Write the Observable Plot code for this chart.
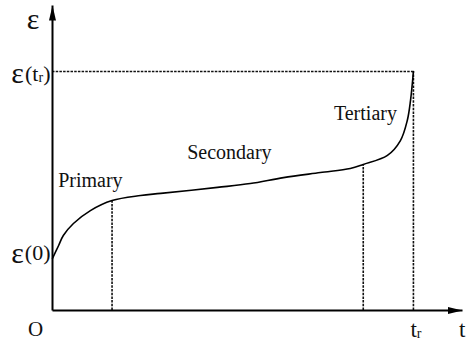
<!DOCTYPE html>
<html><head><meta charset="utf-8">
<script src="https://cdn.jsdelivr.net/npm/d3@7"></script>
<script src="https://cdn.jsdelivr.net/npm/@observablehq/plot@0.6"></script>
<style>body{margin:0;background:#fff} svg text{font-family:"Liberation Serif","Times New Roman","DejaVu Serif",serif !important}</style>
</head><body><div id="chart"></div>
<script>
// creep curve: time (t_r = 10) vs strain (ε(t_r) = 10)
const time   = [0, 0.17, 0.30, 0.58, 1.05, 1.65, 2.44, 3.0, 4.57, 5.48, 6.40, 7.42, 8.25, 8.61, 9.28, 9.64, 9.83, 9.92, 10.0];
const strain = [2.18, 2.72, 3.14, 3.64, 4.18, 4.60, 4.81, 4.90, 5.15, 5.31, 5.56, 5.77, 5.94, 6.11, 6.49, 7.11, 7.95, 8.79, 10.0];
const tRupture = 10, strainRupture = 10, strain0 = 2.18;
const stageEnds = [{t: 1.65, e: 4.60}, {t: 8.61, e: 6.11}];
const stageNames = ["Primary", "Secondary", "Tertiary"];
const stageLabelT = [1.05, 4.90, 8.67];
const stageLabelE = [5.44, 6.61, 8.24];
const tMax = 11.36, eMax = 12.76;

const curve = time.map((t, i) => ({t, e: strain[i]}));
const labels = stageNames.map((name, i) => ({name, t: stageLabelT[i], e: stageLabelE[i]}));
const FONT = "Liberation Serif, Times New Roman, DejaVu Serif, serif";

function filledArrow(color, context) {
  const doc = (context && context.document) || document;
  const m = doc.createElementNS("http://www.w3.org/2000/svg", "marker");
  m.setAttribute("viewBox", "-15 -4 15 8");
  m.setAttribute("markerWidth", "15");
  m.setAttribute("markerHeight", "8");
  m.setAttribute("markerUnits", "userSpaceOnUse");
  m.setAttribute("orient", "auto");
  m.setAttribute("refX", "0");
  m.setAttribute("refY", "0");
  const p = doc.createElementNS("http://www.w3.org/2000/svg", "path");
  p.setAttribute("d", "M-15,-3.5L0,0L-15,3.5Z");
  p.setAttribute("fill", "#000");
  p.setAttribute("stroke", "none");
  m.appendChild(p);
  return m;
}

function build(marker) {
  const dash = {stroke: "#111", strokeWidth: 1.6, strokeDasharray: "2.5,1.2"};
  const txt = {fill: "#111", fontFamily: FONT};
  return Plot.plot({
    width: 467, height: 342,
    marginLeft: 52, marginRight: 5, marginTop: 5, marginBottom: 32,
    x: {domain: [0, tMax], axis: null},
    y: {domain: [0, eMax], axis: null},
    style: {fontFamily: FONT, background: "#fff"},
    marks: [
      Plot.ruleX(stageEnds, {x: "t", y1: 0, y2: "e", ...dash}),
      Plot.ruleX([tRupture], {y1: 0, y2: strainRupture, ...dash}),
      Plot.ruleY([strainRupture], {x1: 0, x2: tRupture, ...dash}),
      Plot.line(curve, {x: "t", y: "e", curve: "catmull-rom", stroke: "#000", strokeWidth: 1.6}),
      Plot.link([0], {x1: 0, y1: 0, x2: tMax, y2: 0, stroke: "#000", strokeWidth: 2, markerEnd: marker}),
      Plot.link([0], {x1: 0, y1: 0, x2: 0, y2: eMax, stroke: "#000", strokeWidth: 2, markerEnd: marker}),
      Plot.text(labels, {x: "t", y: "e", text: "name", fontSize: 20, ...txt}),
      // axis labels
      Plot.text(["ε"], {x: 0, y: eMax, dx: -19.5, dy: 14, fontSize: 30, ...txt}),
      Plot.text(["ε"], {x: 0, y: strainRupture, dx: -35, dy: 2, fontSize: 30, ...txt}),
      Plot.text(["(tr)"], {x: 0, y: strainRupture, dx: -2, dy: 2, textAnchor: "end", fontSize: 22, ...txt}),
      Plot.text(["ε"], {x: 0, y: strain0, dx: -35, dy: -5, fontSize: 30, ...txt}),
      Plot.text(["(0)"], {x: 0, y: strain0, dx: -2, dy: -5, textAnchor: "end", fontSize: 22, ...txt}),
      Plot.text(["O"], {x: 0, y: 0, dx: -17, dy: 18.5, fontSize: 21, ...txt}),
      Plot.text(["tr"], {x: tRupture, y: 0, dx: -3, dy: 19, textAnchor: "start", fontSize: 23, ...txt}),
      Plot.text(["t"], {x: tMax, y: 0, dx: -3.5, dy: 19, textAnchor: "start", fontSize: 23, ...txt})
    ]
  });
}

let chart;
try { chart = build(filledArrow); } catch (e) { chart = build("arrow"); }

// subscript r in t_r labels
d3.select(chart).selectAll("text").filter(function () { return this.textContent === "(tr)" || this.textContent === "tr"; })
  .each(function () {
    const paren = this.textContent === "(tr)";
    const sel = d3.select(this);
    sel.text(null);
    sel.append("tspan").text(paren ? "(t" : "t");
    sel.append("tspan").attr("font-size", 14).attr("dy", 1).text("r");
    if (paren) sel.append("tspan").attr("dy", -1).text(")");
  });

document.getElementById("chart").appendChild(chart);
</script>
</body></html>
